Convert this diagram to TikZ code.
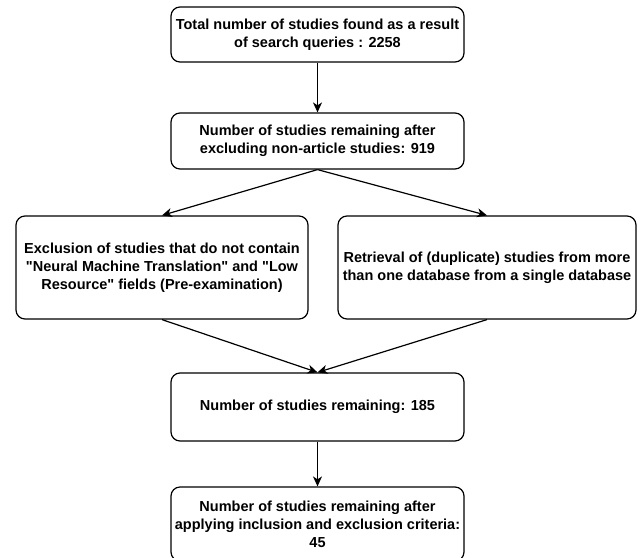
\documentclass[tikz,border=0pt]{standalone}
\usepackage{fontspec}
\setmainfont{Liberation Sans}[Ligatures=TeXOff]
\usetikzlibrary{arrows.meta}
\tikzset{
  box/.style={draw=black, line width=1.2pt, rounded corners=9pt, fill=white,
    align=center, inner sep=0pt, minimum width=293pt,
    font=\bfseries\fontsize{14.5}{18}\selectfont},
  arr/.style={draw=black, line width=1.2pt, -{Stealth[length=10pt,width=9pt,inset=3pt]}}
}
\begin{document}
\begin{tikzpicture}[x=1pt,y=-1pt]
\useasboundingbox (0,0) rectangle (642,557);
\clip (0,0) rectangle (642,557);
\node[box, minimum height=55pt] (n1) at (317.5,34.5)
  {Total number of studies found as a result\\of search queries : 2258};
\node[box, minimum height=56pt] (n2) at (317.5,141)
  {Number of studies remaining after\\excluding non-article studies: 919};
\node[box, minimum width=292pt, minimum height=103pt] (lb) at (162,267.5)
  {Exclusion of studies that do not contain\\"Neural Machine Translation" and "Low\\Resource" fields (Pre-examination)};
\node[box, minimum width=298pt, minimum height=103pt] (rb) at (487,267.5)
  {Retrieval of (duplicate) studies from more\\than one database from a single database};
\node[box, minimum height=68pt] (n5) at (317.5,407)
  {Number of studies remaining: 185};
\node[box, minimum height=74pt] (n6) at (317.5,524)
  {Number of studies remaining after\\applying inclusion and exclusion criteria:\\45};
\draw[arr] (n1.south) -- (n2.north);
\draw[arr] (n2.south) -- (lb.north);
\draw[arr] (n2.south) -- (rb.north);
\draw[arr] (lb.south) -- (n5.north);
\draw[arr] (rb.south) -- (n5.north);
\draw[arr] (n5.south) -- (n6.north);
\end{tikzpicture}
\end{document}
